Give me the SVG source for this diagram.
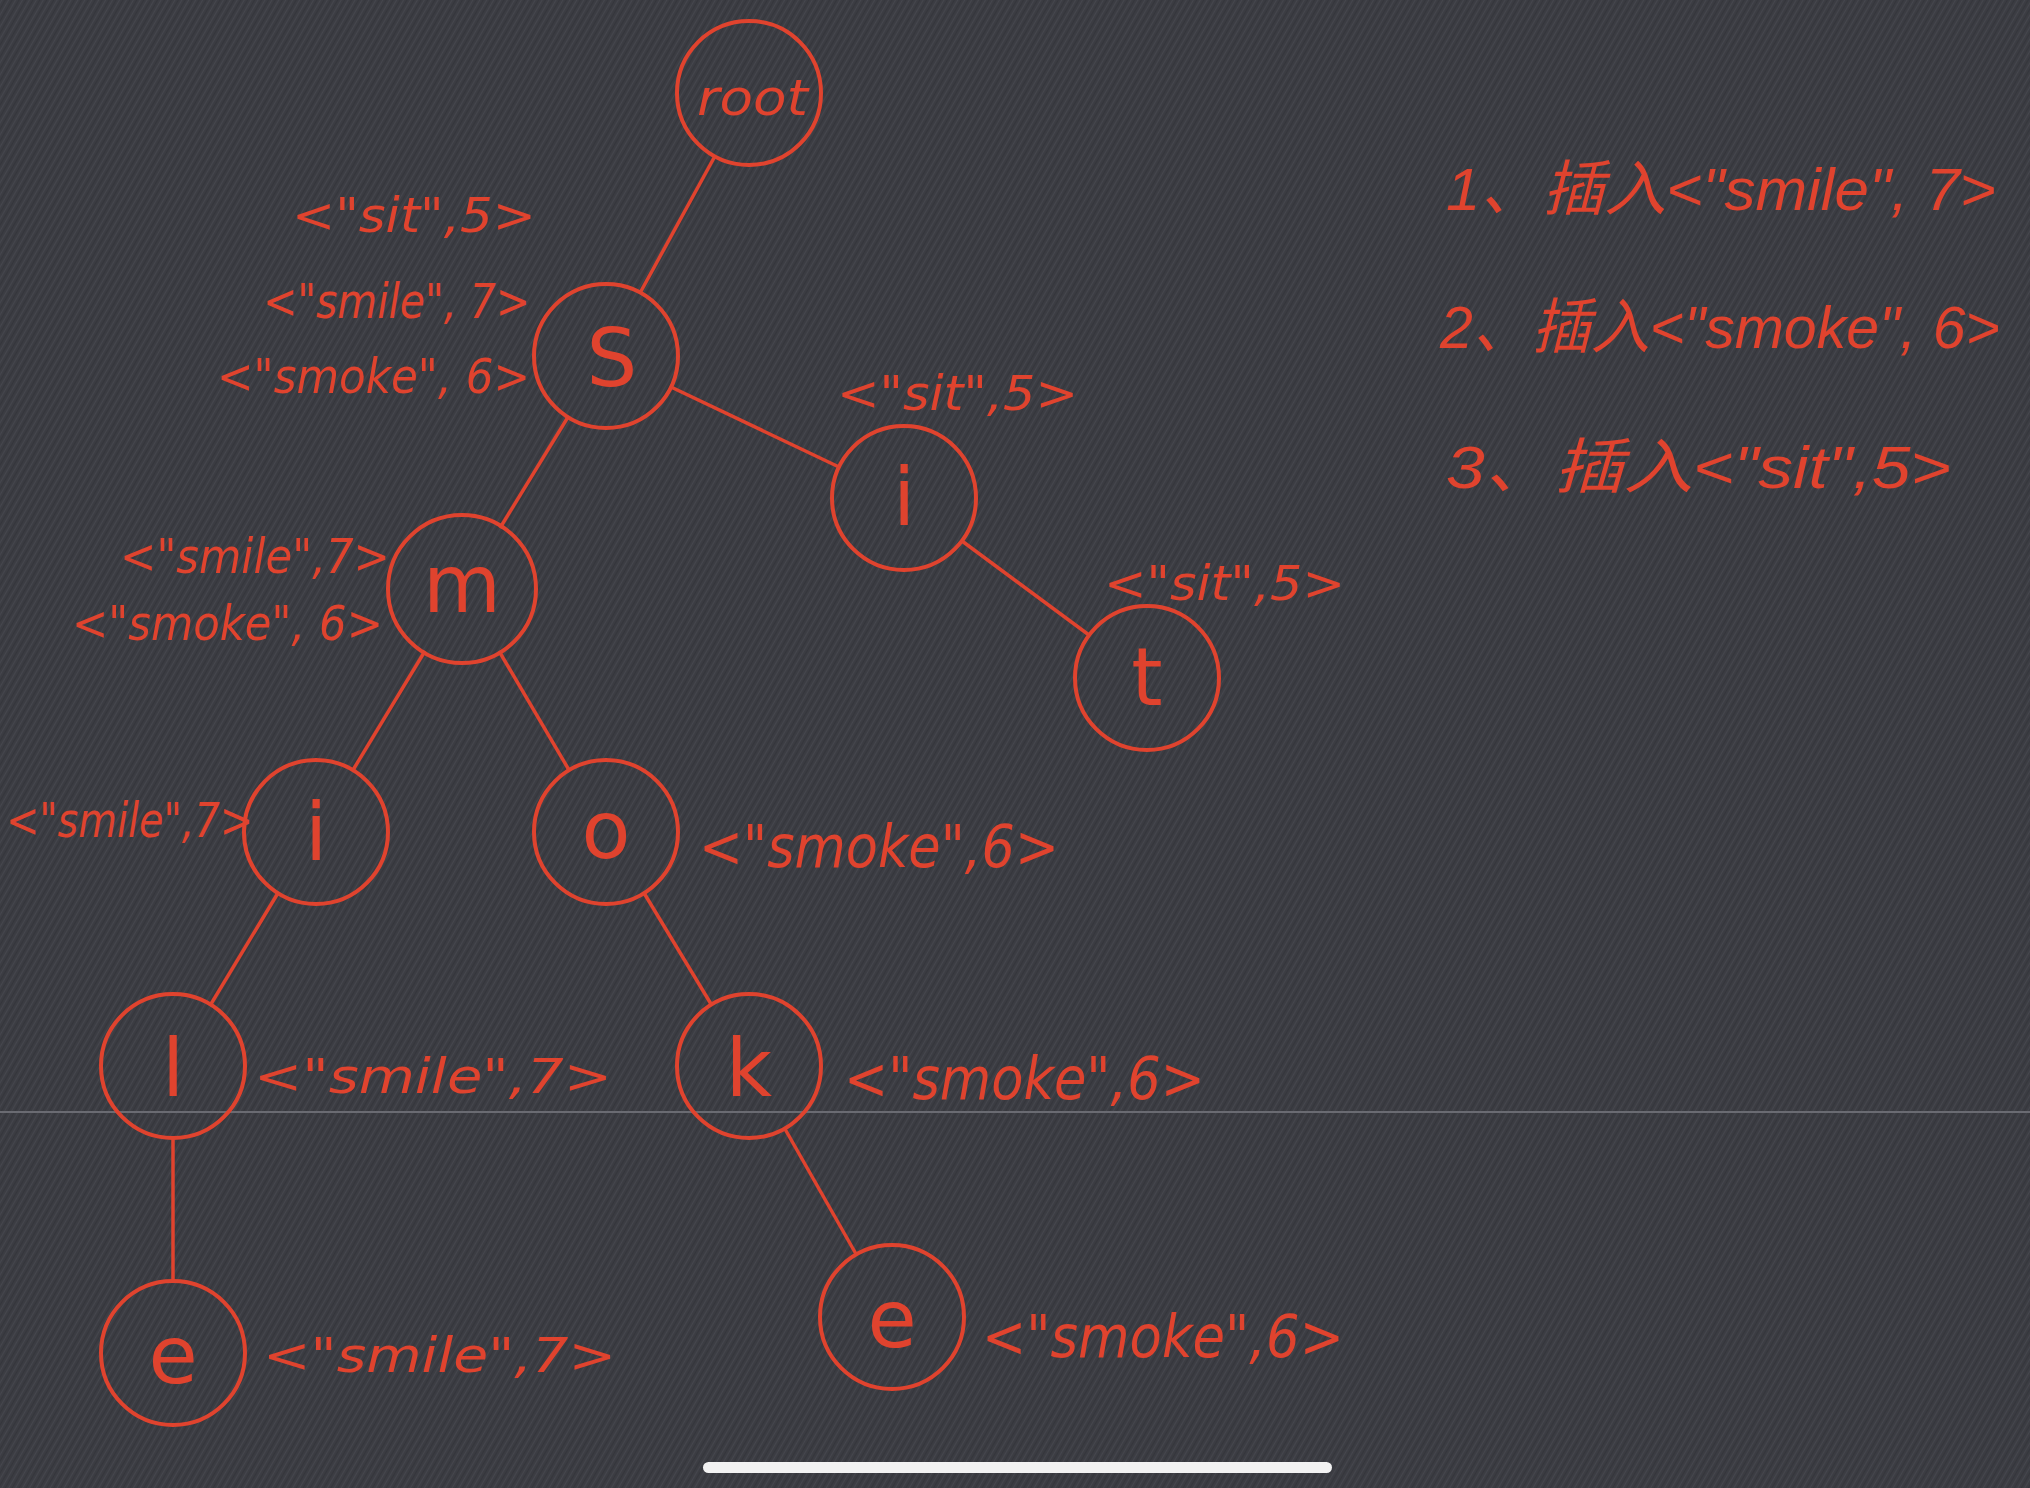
<svg xmlns="http://www.w3.org/2000/svg" width="2030" height="1488" viewBox="0 0 2030 1488">
<defs>
<pattern id="denim" width="6" height="6" patternUnits="userSpaceOnUse" patternTransform="rotate(-60)">
<rect width="6" height="6" fill="#3b3c42"/>
<line x1="0" y1="1.5" x2="6" y2="1.5" stroke="#45464d" stroke-width="1.2"/>
<line x1="0" y1="4.5" x2="6" y2="4.5" stroke="#35363c" stroke-width="1.2"/>
</pattern>
<style>
.n{fill:none;stroke:#e0432e;stroke-width:4}
.c line{stroke:#e0432e;stroke-width:3.5}
.lt{fill:#e0432e;font-family:"Liberation Sans Narrow","DejaVu Sans Condensed","Liberation Sans",sans-serif;font-style:italic}
.lb{font-size:48px}
.nl{fill:#e0432e;font-family:"DejaVu Sans","Liberation Sans",sans-serif;font-size:80px;text-anchor:middle}
.cj{fill:#e0432e;font-family:"Liberation Sans","Noto Sans CJK SC",sans-serif;font-size:60px;font-style:italic}
</style>
</defs>
<rect width="2030" height="1488" fill="url(#denim)"/>
<line x1="0" y1="1112" x2="2030" y2="1112" stroke="#6a6b72" stroke-width="2"/>
<rect x="703" y="1462" width="629" height="11" rx="5.5" fill="#f2f2f2"/>

<g id="connectors" class="c">
<line x1="715" y1="156" x2="640" y2="293"/>
<line x1="671" y1="387" x2="839" y2="467"/>
<line x1="568" y1="417" x2="500" y2="528"/>
<line x1="962" y1="541" x2="1089" y2="635"/>
<line x1="425" y1="651" x2="353" y2="770"/>
<line x1="499" y1="651" x2="569" y2="770"/>
<line x1="278" y1="893" x2="211" y2="1004"/>
<line x1="644" y1="893" x2="711" y2="1004"/>
<line x1="173" y1="1138" x2="173" y2="1281"/>
<line x1="785" y1="1129" x2="856" y2="1254"/>
</g>

<g id="node-root"><circle class="n" cx="749" cy="93" r="72"/><text class="lt" x="697" y="115" font-size="50" textLength="111" lengthAdjust="spacingAndGlyphs">root</text></g>
<g id="node-s"><circle class="n" cx="606" cy="356" r="72"/><text class="nl" x="612" y="386">S</text>
<text class="lt lb" x="292" y="232" textLength="244" lengthAdjust="spacingAndGlyphs">&lt;"sit",5&gt;</text>
<text class="lt lb" x="263" y="318" textLength="267" lengthAdjust="spacingAndGlyphs">&lt;"smile", 7&gt;</text>
<text class="lt lb" x="217" y="393" textLength="313" lengthAdjust="spacingAndGlyphs">&lt;"smoke", 6&gt;</text></g>
<g id="node-i1"><circle class="n" cx="904" cy="498" r="72"/><text class="nl" x="904" y="525">i</text>
<text class="lt lb" x="837" y="410" textLength="241" lengthAdjust="spacingAndGlyphs">&lt;"sit",5&gt;</text></g>
<g id="node-t"><circle class="n" cx="1147" cy="678" r="72"/><text class="nl" x="1147" y="705">t</text>
<text class="lt lb" x="1104" y="600" textLength="241" lengthAdjust="spacingAndGlyphs">&lt;"sit",5&gt;</text></g>
<g id="node-m"><circle class="n" cx="462" cy="589" r="74"/><text class="nl" x="462" y="612">m</text>
<text class="lt lb" x="120" y="573" textLength="270" lengthAdjust="spacingAndGlyphs">&lt;"smile",7&gt;</text>
<text class="lt lb" x="72" y="640" textLength="311" lengthAdjust="spacingAndGlyphs">&lt;"smoke", 6&gt;</text></g>
<g id="node-i2"><circle class="n" cx="316" cy="832" r="72"/><text class="nl" x="316" y="860">i</text>
<text class="lt lb" x="6" y="837" textLength="247" lengthAdjust="spacingAndGlyphs">&lt;"smile",7&gt;</text></g>
<g id="node-o"><circle class="n" cx="606" cy="832" r="72"/><text class="nl" x="606" y="858">o</text>
<text class="lt" x="699" y="867" font-size="58" textLength="360" lengthAdjust="spacingAndGlyphs">&lt;"smoke",6&gt;</text></g>
<g id="node-l"><circle class="n" cx="173" cy="1066" r="72"/><text class="nl" x="173" y="1096">l</text>
<text class="lt lb" x="254" y="1093" textLength="358" lengthAdjust="spacingAndGlyphs">&lt;"smile",7&gt;</text></g>
<g id="node-k"><circle class="n" cx="749" cy="1066" r="72"/><text class="nl" x="749" y="1096">k</text>
<text class="lt" x="844" y="1099" font-size="58" textLength="361" lengthAdjust="spacingAndGlyphs">&lt;"smoke",6&gt;</text></g>
<g id="node-e1"><circle class="n" cx="173" cy="1353" r="72"/><text class="nl" x="173" y="1383" font-size="95">e</text>
<text class="lt lb" x="263" y="1372" textLength="353" lengthAdjust="spacingAndGlyphs">&lt;"smile",7&gt;</text></g>
<g id="node-e2"><circle class="n" cx="892" cy="1317" r="72"/><text class="nl" x="892" y="1347" font-size="95">e</text>
<text class="lt" x="982" y="1357" font-size="58" textLength="362" lengthAdjust="spacingAndGlyphs">&lt;"smoke",6&gt;</text></g>

<g id="notes">
<text class="cj" x="1446" y="210" textLength="550" lengthAdjust="spacingAndGlyphs">1、插入&lt;"smile", 7&gt;</text>
<text class="cj" x="1440" y="348" textLength="560" lengthAdjust="spacingAndGlyphs">2、插入&lt;"smoke", 6&gt;</text>
<text class="cj" x="1446" y="488" textLength="505" lengthAdjust="spacingAndGlyphs">3、插入&lt;"sit",5&gt;</text>
</g>
</svg>
